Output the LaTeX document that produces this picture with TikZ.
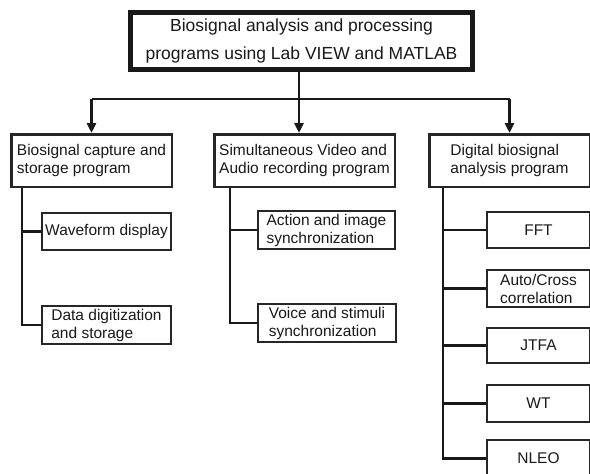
\documentclass[tikz,border=0pt]{standalone}
\usepackage{fontspec}
\setmainfont{Liberation Sans}
\usetikzlibrary{arrows.meta}
\begin{document}
\begin{tikzpicture}[x=1pt,y=-1pt,
  line/.style={draw=black!90, line width=2.5pt},
  arr/.style={draw=black!90, line width=2.5pt, -{Triangle[length=10pt,width=9pt]}},
  topbox/.style={draw=black!90, line width=5pt, minimum width=342pt, minimum height=57pt,
    inner sep=0pt, align=center, text=black!90, font=\fontsize{17.5}{28}\selectfont},
  midbox/.style={draw=black!85, line width=2.5pt, inner sep=0pt, align=left, text=black!90,
    minimum height=52.5pt, font=\fontsize{15.5}{18}\selectfont},
  leafbox/.style={draw=black!85, line width=2pt, inner sep=0pt, align=left, text=black!90,
    font=\fontsize{15.5}{18}\selectfont}]
\useasboundingbox (0,0) rectangle (590,474);
\fill[white] (0,0) rectangle (590,474);
\clip (0,0) rectangle (590,474);

% top
\node[topbox] (top) at (301.5,41) {Biosignal analysis and processing\\programs using Lab VIEW and MATLAB};

% level 2
\node[midbox, minimum width=160.5pt] (b1) at (91.5,160.5) {Biosignal capture and\\storage program};
\node[midbox, minimum width=180.5pt] (b2) at (304.5,160.5) {Simultaneous Video and\\Audio recording program};
\node[midbox, minimum width=160.5pt] (b3) at (509.5,160.5) {Digital biosignal\\analysis program};

% leaves
\node[leafbox, minimum width=129pt, minimum height=37pt] (wave) at (106.5,231.5) {Waveform display};
\node[leafbox, minimum width=129pt, minimum height=38pt] (data) at (106.5,325) {Data digitization\\and storage};
\node[leafbox, minimum width=137pt, minimum height=38pt] (act) at (326.5,230) {Action and image\\synchronization};
\node[leafbox, minimum width=138pt, minimum height=38pt] (voice) at (327,323) {Voice and stimuli\\synchronization};
\node[leafbox, minimum width=103pt, minimum height=36pt] (fft) at (538.5,230) {FFT};
\node[leafbox, minimum width=103pt, minimum height=37pt] (auto) at (538.5,288.5) {Auto/Cross\\correlation};
\node[leafbox, minimum width=103pt, minimum height=35pt] (jtfa) at (538.5,345.5) {JTFA};
\node[leafbox, minimum width=103pt, minimum height=37pt] (wt) at (538.5,403.5) {WT};
\node[leafbox, minimum width=103pt, minimum height=37pt] (nleo) at (538.5,458.5) {NLEO};

% helper coordinates
\coordinate (hl) at (0,99);
\coordinate (mid) at (299,0);
\coordinate (t1) at (22,0);
\coordinate (t2) at (230,0);
\coordinate (t3) at (443,0);

% top-level connectors
\draw[line] (b1.north |- hl) -- (b3.north |- hl);
\draw[arr] (top.south -| mid) -- (b2.north -| mid);
\draw[arr] (b1.north |- hl) -- (b1.north);
\draw[arr] (b3.north |- hl) -- (b3.north);

% trunk 1
\draw[line] (b1.south -| t1) |- (data.west);
\draw[line] (wave.west -| t1) -- (wave.west);

% trunk 2
\draw[line] (b2.south -| t2) |- (voice.west);
\draw[line] (act.west -| t2) -- (act.west);

% trunk 3
\draw[line] (b3.south -| t3) |- (nleo.west);
\draw[line] (fft.west -| t3) -- (fft.west);
\draw[line] (auto.west -| t3) -- (auto.west);
\draw[line] (jtfa.west -| t3) -- (jtfa.west);
\draw[line] (wt.west -| t3) -- (wt.west);
\end{tikzpicture}
\end{document}
